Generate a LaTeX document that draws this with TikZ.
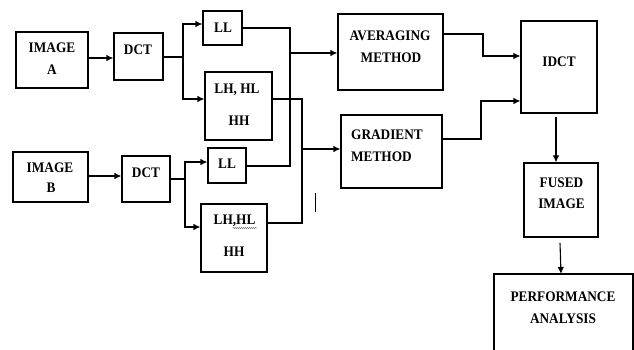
\documentclass[tikz,border=0pt]{standalone}
\usepackage{fontspec}
\setmainfont{Liberation Serif}[FakeStretch=0.91]
\usetikzlibrary{arrows.meta,decorations.pathmorphing}
\begin{document}
\begin{tikzpicture}[x=1pt,y=-1pt,
  box/.style={draw,line width=1.1pt,rectangle,inner sep=0pt},
  lbl/.style={font=\fontsize{14.6}{16}\selectfont\bfseries,inner sep=0pt,anchor=base},
  lbll/.style={lbl,anchor=base west},
  wire/.style={line width=1.1pt},
  arr/.style={line width=1.1pt,-{Latex[length=7pt,width=6.5pt]}}]
\useasboundingbox (0,0) rectangle (634,349);
\clip (0,0) rectangle (634,349);
% boxes
\node[box,minimum width=72,minimum height=56] (imgA) at (52,60) {};
\node[box,minimum width=49,minimum height=47] (dctA) at (138.5,56.5) {};
\node[box,minimum width=39,minimum height=34] (llA) at (222.5,28) {};
\node[box,minimum width=67,minimum height=68] (lhA) at (238.5,106) {};
\node[box,minimum width=75,minimum height=50] (imgB) at (50.5,177) {};
\node[box,minimum width=48,minimum height=46] (dctB) at (146,179) {};
\node[box,minimum width=38,minimum height=35] (llB) at (227,165.5) {};
\node[box,minimum width=66,minimum height=68] (lhB) at (234,238) {};
\node[box,minimum width=105,minimum height=76] (avg) at (390.5,52) {};
\node[box,minimum width=101,minimum height=73] (grad) at (391.5,151.5) {};
\node[box,minimum width=76,minimum height=92] (idct) at (559,67) {};
\node[box,minimum width=74,minimum height=74] (fused) at (561,200) {};
\node[box,minimum width=139,minimum height=86] (perf) at (563.5,317) {};
% labels
\node[lbl] (tA1) at (52,52.8) {IMAGE};
\node[lbl] (tA2) at (52,74.8) {A};
\node[lbl] (tdA) at (138,54.8) {DCT};
\node[lbl] (tlA) at (223,32.8) {LL};
\node[lbl] (thA1) at (237,93.8) {LH, HL};
\node[lbl] (thA2) at (239,125.8) {HH};
\node[lbl] (tB1) at (50,172.8) {IMAGE};
\node[lbl] (tB2) at (51,192.8) {B};
\node[lbl] (tdB) at (146,177.8) {DCT};
\node[lbl] (tlB) at (227,168.8) {LL};
\node[lbl] (thB1) at (234.5,224.8) {LH,HL};
\node[lbl] (thB2) at (234,256.8) {HH};
\node[lbl] (tav1) at (390,40.8) {AVERAGING};
\node[lbl] (tav2) at (391,62.8) {METHOD};
\node[lbll] (tgr1) at (351,139.8) {GRADIENT};
\node[lbll] (tgr2) at (351,161.8) {METHOD};
\node[lbl] (tid) at (559,66.8) {IDCT};
\node[lbl] (tfu1) at (561.5,187.8) {FUSED};
\node[lbl] (tfu2) at (561.5,208.8) {IMAGE};
\node[lbl] (tpe1) at (563,301.8) {PERFORMANCE};
\node[lbl] (tpe2) at (563,323.8) {ANALYSIS};
% wavy underline
\draw[line width=0.5pt,gray,decorate,decoration={snake,amplitude=0.7pt,segment length=2pt}] (233,228) -- (257,228);
% junction coordinates
\coordinate (jA) at (183,57);
\coordinate (jB) at (185,179);
\coordinate (vLL) at (290,53);
\coordinate (vLH) at (302,149);
% connectors
\draw[arr] (imgA.east |- 0,58) -- (dctA.west |- 0,58);
\draw[wire] (dctA.east |- 0,57) -- (jA);
\draw[arr] (jA) |- (llA.west |- 0,24);
\draw[arr] (jA) |- (lhA.west |- 0,99);
\draw[arr] (imgB.east |- 0,176) -- (dctB.west |- 0,176);
\draw[wire] (dctB.east |- 0,179) -- (jB);
\draw[arr] (jB) |- (llB.west |- 0,162);
\draw[arr] (jB) |- (lhB.west |- 0,227);
\draw[wire] (llA.east |- 0,28) -| (290,166) -- (llB.east |- 0,166);
\draw[wire] (lhA.east |- 0,99) -| (302,223) -- (lhB.east |- 0,223);
\draw[arr] (vLL) -- (avg.west |- vLL);
\draw[arr] (vLH) -- (grad.west |- vLH);
\draw[arr] (avg.east |- 0,34) -- (483,34) |- (idct.west |- 0,56);
\draw[arr] (grad.east |- 0,139) -- (481,139) |- (idct.west |- 0,101);
\draw[arr] (556,117) -- (fused.north -| 556,0);
\draw[arr] (560,243) -- (561,274);
\draw[line width=1pt] (315,193) -- (315,212);
\end{tikzpicture}
\end{document}
